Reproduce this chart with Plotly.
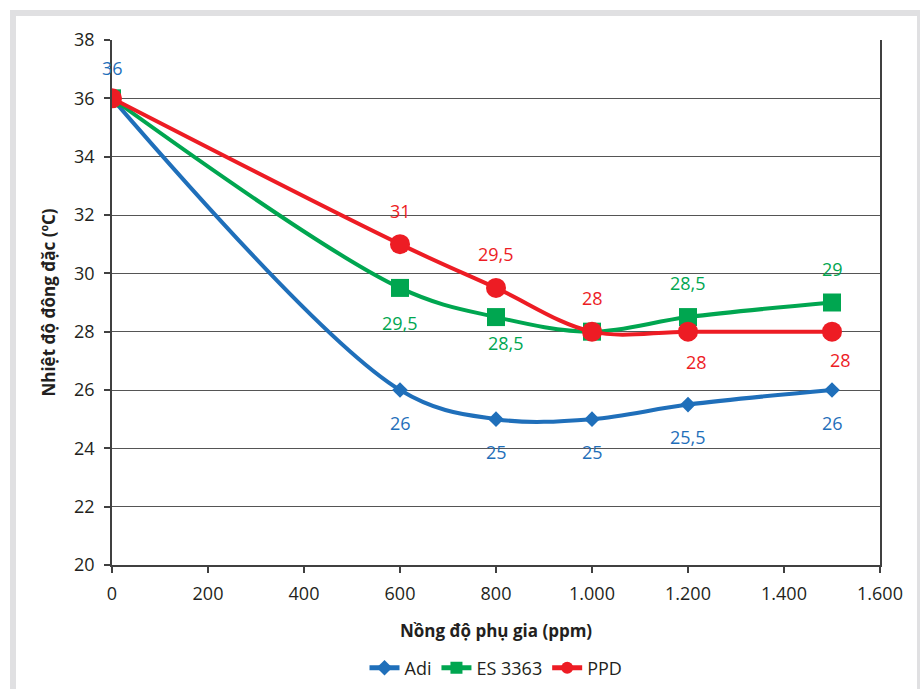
import plotly.graph_objects as go

# ---- data ----
x_ppm = [0, 600, 800, 1000, 1200, 1500]
adi = [36, 26, 25, 25, 25.5, 26]
es3363 = [36, 29.5, 28.5, 28, 28.5, 29]
ppd = [36, 31, 29.5, 28, 28, 28]
series_names = ["Adi", "ES 3363", "PPD"]
x_title = "Nồng độ phụ gia (ppm)"
y_title = "Nhiệt độ đông đặc (ºC)"

# ---- styles ----
colors = ["#1F6FBA", "#00A650", "#ED1C24"]
symbols = ["diamond", "square", "circle"]
msizes = [12, 18, 20]
# label offsets (px) per point: (xshift, yshift); None = no label
label_off = [
    [(0, 30), (0, -33), (0, -33), (0, -33), (0, -32), (0, -33)],
    [None, (0, -35), (10, -26), None, (0, 34), (0, 34)],
    [None, (0, 33), (0, 34), (0, 34), (8, -30), (8, -28)],
]

def fmt(v):
    s = ("%g" % v)
    return s.replace(".", ",")

fig = go.Figure()
data = [adi, es3363, ppd]
for name, ys, c, sym, ms in zip(series_names, data, colors, symbols, msizes):
    fig.add_trace(go.Scatter(
        x=x_ppm, y=ys, name=name, mode="lines+markers",
        line=dict(color=c, width=4, shape="spline", smoothing=1.0),
        marker=dict(symbol=sym, size=ms, color=c),
    ))

annotations = []
for ys, c, offs in zip(data, colors, label_off):
    for xv, yv, off in zip(x_ppm, ys, offs):
        if off is None:
            continue
        annotations.append(dict(
            x=xv, y=yv, xref="x", yref="y", text=fmt(yv), showarrow=False,
            xshift=off[0], yshift=off[1],
            font=dict(size=18, color=c, family="Open Sans"),
        ))

# border around the chart (paper coordinates relative to plot area)
L, R, T, B = 112, 880, 40, 565
def px2x(px):
    return (px - L) / (R - L)
def py2y(py):
    return (B - py) / (B - T)

shapes = [dict(
    type="rect", xref="paper", yref="paper",
    x0=px2x(13), x1=px2x(920), y0=py2y(720), y1=py2y(13),
    line=dict(color="#E0E0E2", width=6), fillcolor="rgba(0,0,0,0)",
    layer="below",
)]

fig.update_layout(
    width=920, height=689,
    margin=dict(l=L, r=920 - R, t=T, b=689 - B, autoexpand=False),
    paper_bgcolor="white", plot_bgcolor="white",
    font=dict(family="Open Sans", size=17, color="#231F20"),
    separators=",.",
    showlegend=True,
    legend=dict(orientation="h", x=0.5, xanchor="center", y=py2y(668), yanchor="middle",
                font=dict(size=18, color="#231F20"), bgcolor="rgba(0,0,0,0)",
                itemsizing="constant"),
    annotations=annotations,
    shapes=shapes,
)
fig.update_xaxes(
    range=[0, 1600], tickvals=list(range(0, 1601, 200)), tickformat=",d",
    showline=True, linecolor="#404040", linewidth=1.5, automargin=False,
    ticks="outside", ticklen=6, tickcolor="#404040", tickwidth=1.5,
    ticklabelstandoff=6, tickfont=dict(size=18),
    showgrid=False, zeroline=False,
    title=dict(text="<b>" + x_title + "</b>", font=dict(size=17), standoff=21),
)
fig.update_yaxes(
    range=[20, 38], dtick=2, automargin=False,
    showline=True, linecolor="#404040", linewidth=1.5, mirror=True,
    ticks="outside", ticklen=6, tickcolor="#404040", tickwidth=1.5,
    ticklabelstandoff=6, tickfont=dict(size=18),
    showgrid=True, gridcolor="#555555", gridwidth=1, zeroline=False,
    title=dict(text="<b>" + y_title + "</b>", font=dict(size=17), standoff=14),
)

fig.write_html("out.html")
